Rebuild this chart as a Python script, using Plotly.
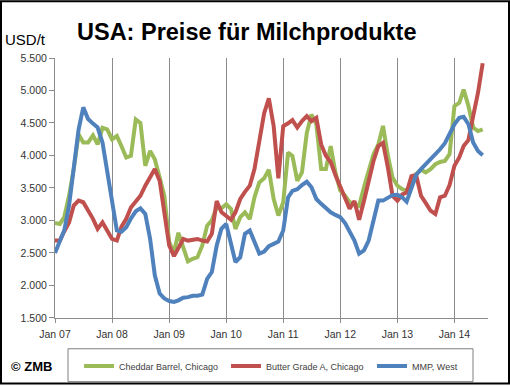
import plotly.graph_objects as go
import pandas as pd

months = pd.date_range("2007-01-01", periods=91, freq="MS")

cheddar = [2960, 2945, 3050, 3380, 3790, 4325, 4200, 4200, 4310, 4170, 4425, 4400,
           4250, 4300, 4145, 3970, 3995, 4555, 4500, 3840, 4070, 3940, 3660, 3380,
           2665, 2510, 2810, 2565, 2370, 2410, 2435, 2615, 2920, 3000, 3200, 3185,
           3250, 3175, 2870, 3050, 3125, 3020, 3355, 3585, 3650, 3780, 3330, 3075,
           3280, 4045, 3995, 3610, 3740, 4350, 4630, 4480, 3790, 3790, 4145, 3740,
           3460, 3380, 3280, 3255, 3225, 3510, 3740, 4020, 4170, 4455, 3995, 3660,
           3535, 3480, 3460, 3560, 3715, 3780, 3740, 3790, 3865, 3900, 3915, 4020,
           4760, 4810, 5015, 4760, 4430, 4375, 4400]

butter = [2690, 2690, 2830, 2970, 3230, 3305, 3280, 3155, 3025, 2870, 2970, 2845,
          2715, 2690, 2900, 3025, 3200, 3290, 3380, 3535, 3660, 3790, 3610, 3125,
          2615, 2450, 2565, 2715, 2690, 2700, 2715, 2690, 2675, 2795, 3300, 3130,
          3075, 3010, 3125, 3330, 3440, 3535, 3790, 4200, 4650, 4880, 4450, 3650,
          4450, 4495, 4545, 4430, 4530, 4605, 4530, 4580, 4170, 3995, 3900, 3700,
          3510, 3350, 3180, 3300, 3010, 3300, 3610, 3915, 4145, 4195, 3815, 3380,
          3305, 3400, 3430, 3680, 3700, 3380, 3270, 3150, 3100, 3355, 3380, 3545,
          3840, 3970, 4145, 4240, 4605, 4965, 5420]

mmp = [2500, 2665, 2845, 3230, 3840, 4400, 4740, 4560, 4490, 4430, 4200, 3740,
       3280, 2845, 2825, 2895, 3030, 3140, 3185, 3100, 2715, 2155, 1875, 1800,
       1760, 1745, 1770, 1810, 1820, 1840, 1840, 1860, 2100, 2205, 2610, 2870,
       2945, 2665, 2360, 2435, 2795, 2845, 2665, 2490, 2520, 2605, 2640, 2675,
       2845, 3355, 3455, 3480, 3545, 3595, 3510, 3330, 3255, 3185, 3125, 3085,
       3050, 2960, 2820, 2690, 2490, 2540, 2690, 3000, 3305, 3305, 3345, 3390,
       3395, 3355, 3290, 3510, 3700, 3790, 3865, 3940, 4005, 4095, 4190, 4325,
       4480, 4580, 4595, 4480, 4200, 4070, 4005]

series_names = ["Cheddar Barrel, Chicago", "Butter Grade A, Chicago", "MMP, West"]
series_colors = ["#9BBB59", "#C0504D", "#4F81BD"]

y_ticks = [1500, 2000, 2500, 3000, 3500, 4000, 4500, 5000, 5500]
y_labels = ["1.500", "2.000", "2.500", "3.000", "3.500", "4.000", "4.500", "5.000", "5.500"]

FONT = "Liberation Sans, Arial, sans-serif"

W, H = 510, 386
L, R, T, B = 55, 22, 58, 67
PW, PH = W - L - R, H - T - B


def px(xp):
    return (xp - L) / PW


def py(yp):
    return (H - B - yp) / PH


legend_ids = ["legend", "legend2", "legend3"]
legend_x = [79, 226, 372]

fig = go.Figure()
for name, vals, col, lid in zip(series_names, [cheddar, butter, mmp], series_colors, legend_ids):
    fig.add_trace(go.Scatter(x=months, y=vals, mode="lines", name=name, legend=lid,
                             line=dict(color=col, width=4)))

legend_common = dict(orientation="h", xref="container", yref="container",
                     xanchor="left", yanchor="middle",
                     font=dict(size=9, color="#404040", family=FONT),
                     bgcolor="rgba(0,0,0,0)", borderwidth=0)

layout_legends = {}
for lid, lx in zip(legend_ids, legend_x):
    layout_legends[lid] = dict(legend_common, x=lx / W, y=1 - 366 / H)

fig.update_layout(
    width=W, height=H,
    margin=dict(l=L, r=R, t=T, b=B),
    paper_bgcolor="white", plot_bgcolor="white",
    font=dict(family=FONT, color="#333333"),
    showlegend=True,
    **layout_legends,
    xaxis=dict(type="date", range=["2007-01-01", "2014-08-04"],
               tick0="2007-01-01", dtick="M12", tickformat="%b %y",
               showgrid=True, gridcolor="#8c8c8c", gridwidth=1,
               showline=True, linecolor="#8c8c8c", linewidth=1,
               ticks="outside", ticklen=4, tickcolor="#8c8c8c",
               ticklabelstandoff=2,
               tickfont=dict(size=10.5, color="#333333", family=FONT)),
    yaxis=dict(range=[1500, 5500], tickvals=y_ticks, ticktext=y_labels,
               showgrid=False, zeroline=False,
               showline=True, linecolor="#8c8c8c", linewidth=1,
               ticks="outside", ticklen=5, tickcolor="#8c8c8c",
               tickfont=dict(size=10.5, color="#333333", family=FONT)),
    shapes=[
        dict(type="rect", xref="paper", yref="paper",
             x0=px(68), x1=px(473), y0=py(383), y1=py(350),
             line=dict(color="#7f7f7f", width=1), fillcolor="rgba(0,0,0,0)"),
        dict(type="rect", xref="paper", yref="paper",
             x0=px(1), x1=px(509), y0=py(385), y1=py(1),
             line=dict(color="black", width=2), fillcolor="rgba(0,0,0,0)"),
    ],
    annotations=[
        dict(text="<b>USA: Preise für Milchprodukte</b>", xref="paper", yref="paper",
             x=px(247), y=py(32), xanchor="center", yanchor="middle", showarrow=False,
             font=dict(size=23.5, color="black", family=FONT)),
        dict(text="USD/t", xref="paper", yref="paper",
             x=px(3), y=py(39), xanchor="left", yanchor="middle", showarrow=False,
             font=dict(size=15, color="black", family=FONT)),
        dict(text="<b>© ZMB</b>", xref="paper", yref="paper",
             x=px(9), y=py(368), xanchor="left", yanchor="middle", showarrow=False,
             font=dict(size=13, color="black", family=FONT)),
    ],
)

fig.write_html("out.html",
               config={"displayModeBar": False},
               post_script="document.body.style.margin='0';document.body.style.overflow='hidden';")
